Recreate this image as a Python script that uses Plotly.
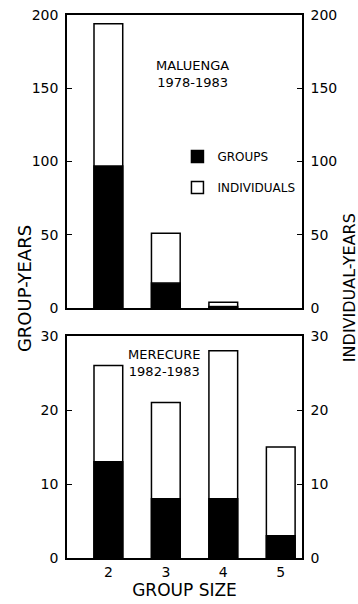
import plotly.graph_objects as go

# ---- data ----
sizes_top = [2, 3, 4]
groups_top = [97, 17, 1]
individuals_top = [194, 51, 4]

sizes_bot = [2, 3, 4, 5]
groups_bot = [13, 8, 8, 3]
individuals_bot = [26, 21, 28, 15]

size_ticks = [2, 3, 4, 5]
top_ticks = [0, 50, 100, 150, 200]
bot_ticks = [0, 10, 20, 30]

FONT = "DejaVu Sans"
BAR_W = 0.5
LINE = dict(color="black", width=1.5)

fig = go.Figure()

# top panel (Maluenga)
fig.add_trace(go.Bar(x=sizes_top, y=individuals_top, width=BAR_W, name="INDIVIDUALS",
                     marker=dict(color="white", line=LINE), xaxis="x2", yaxis="y3",
                     legendgroup="i", legendrank=2))
fig.add_trace(go.Bar(x=sizes_top, y=groups_top, width=BAR_W, name="GROUPS",
                     marker=dict(color="black", line=LINE), xaxis="x2", yaxis="y3",
                     legendgroup="g", legendrank=1))
fig.add_trace(go.Scatter(x=sizes_top, y=individuals_top, mode="markers",
                         marker=dict(opacity=0), xaxis="x2", yaxis="y4",
                         showlegend=False, hoverinfo="skip"))

# bottom panel (Merecure)
fig.add_trace(go.Bar(x=sizes_bot, y=individuals_bot, width=BAR_W, showlegend=False,
                     marker=dict(color="white", line=LINE), xaxis="x", yaxis="y"))
fig.add_trace(go.Bar(x=sizes_bot, y=groups_bot, width=BAR_W, showlegend=False,
                     marker=dict(color="black", line=LINE), xaxis="x", yaxis="y"))
fig.add_trace(go.Scatter(x=sizes_bot, y=individuals_bot, mode="markers",
                         marker=dict(opacity=0), xaxis="x", yaxis="y2",
                         showlegend=False, hoverinfo="skip"))

XR = [1.28, 5.37]
axis_common = dict(showline=True, linecolor="black", linewidth=1.5, showgrid=False,
                   zeroline=False, ticks="inside", ticklen=5, tickwidth=1.2,
                   tickcolor="black", automargin=False,
                   tickfont=dict(family=FONT, size=14, color="black"))

fig.update_layout(
    width=358, height=604,
    margin=dict(l=67, r=56, t=15, b=46, autoexpand=False),
    paper_bgcolor="white", plot_bgcolor="white",
    barmode="overlay",
    font=dict(family=FONT, color="black"),
    xaxis=dict(domain=[0, 1], anchor="y", range=XR, tickvals=size_ticks,
               showline=True, linecolor="black", linewidth=1.5, mirror=True,
               showgrid=False, zeroline=False, ticks="", automargin=False,
               tickfont=dict(family=FONT, size=14, color="black"),
               title=dict(text="GROUP SIZE", font=dict(family=FONT, size=17, color="black"),
                          standoff=6)),
    yaxis=dict(domain=[0, 0.4088], anchor="x", range=[0, 30], tickvals=bot_ticks,
               ticklabelstandoff=4, **axis_common),
    yaxis2=dict(overlaying="y", side="right", anchor="x", range=[0, 30],
                tickvals=bot_ticks, ticklabelstandoff=4, **axis_common),
    xaxis2=dict(domain=[0, 1], anchor="y3", range=XR, showticklabels=False,
                showline=True, linecolor="black", linewidth=1.5, mirror=True,
                showgrid=False, zeroline=False, ticks="", automargin=False),
    yaxis3=dict(domain=[0.4604, 1], anchor="x2", range=[0, 200], tickvals=top_ticks,
                ticklabelstandoff=4, **axis_common),
    yaxis4=dict(overlaying="y3", side="right", anchor="x2", range=[0, 200],
                tickvals=top_ticks, ticklabelstandoff=4, **axis_common),
    showlegend=True,
    legend=dict(x=0.47, y=0.766, xanchor="left", yanchor="top",
                font=dict(family=FONT, size=12, color="black"),
                tracegroupgap=12, bgcolor="rgba(0,0,0,0)", itemclick=False),
    annotations=[
        dict(text="MALUENGA<br>1978-1983", x=3.46, y=159.4, xref="x2", yref="y3",
             showarrow=False, font=dict(family=FONT, size=13, color="black")),
        dict(text="MERECURE<br>1982-1983", x=2.98, y=26.35, xref="x", yref="y",
             showarrow=False, font=dict(family=FONT, size=13, color="black")),
        dict(text="GROUP-YEARS", x=-0.183, y=0.497, xref="paper", yref="paper",
             xanchor="center", yanchor="middle",
             showarrow=False, textangle=-90,
             font=dict(family=FONT, size=18, color="black")),
        dict(text="INDIVIDUAL-YEARS", x=1.2, y=0.497, xref="paper", yref="paper",
             xanchor="center", yanchor="middle",
             showarrow=False, textangle=-90,
             font=dict(family=FONT, size=16, color="black")),
    ],
)

fig.write_html("out.html", config={"displayModeBar": False},
               post_script="document.body.style.margin='0';document.body.style.overflow='hidden';")
